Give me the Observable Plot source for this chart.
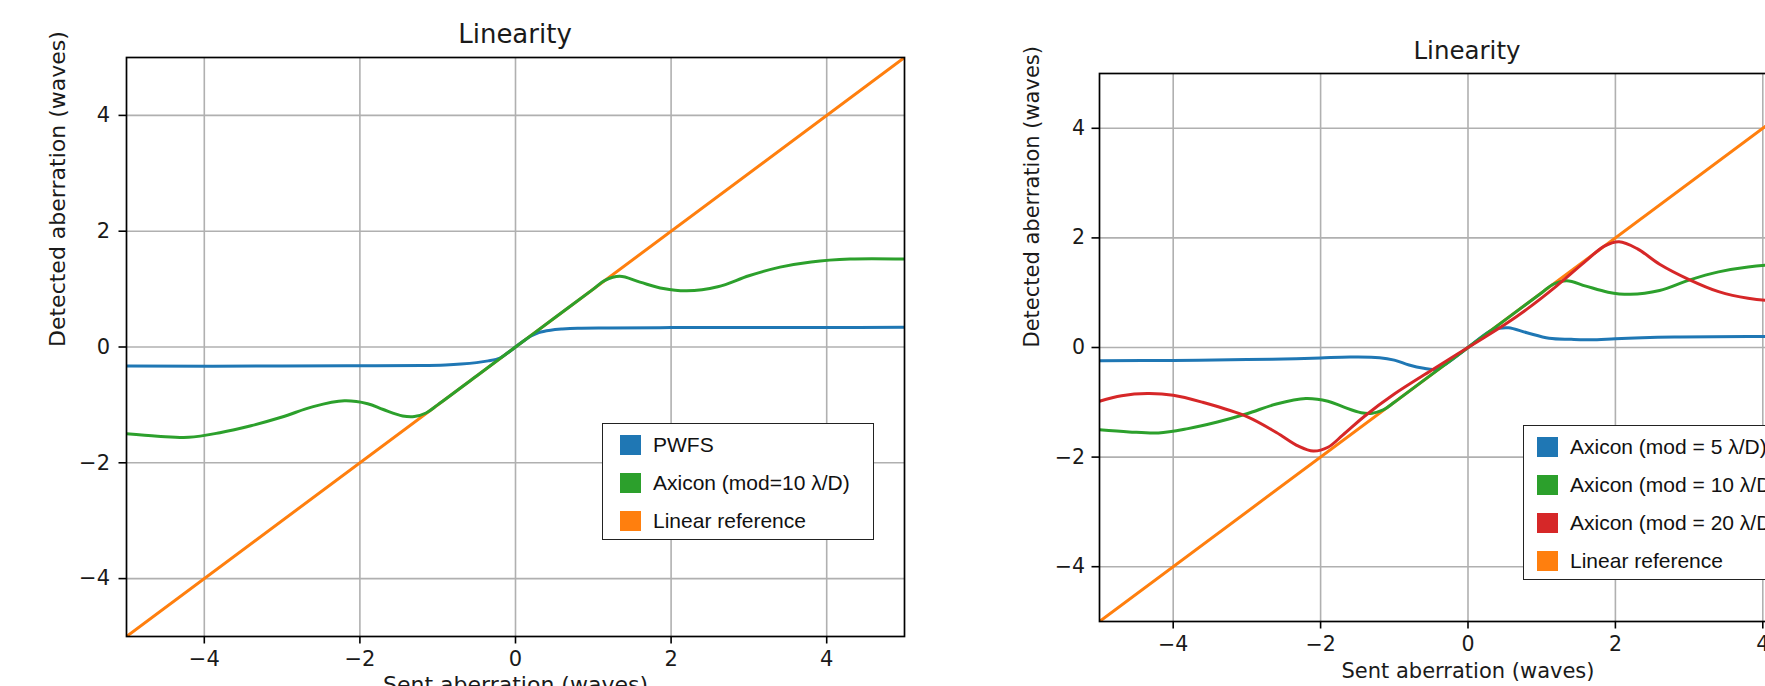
<!DOCTYPE html>
<html>
<head>
<meta charset="utf-8">
<script src="https://cdn.jsdelivr.net/npm/d3@7"></script>
<script src="https://cdn.jsdelivr.net/npm/@observablehq/plot@0.6"></script>
<style>
  html, body { margin: 0; padding: 0; background: #fff; overflow: hidden; width: 1765px; height: 686px; }
  #root { position: relative; width: 1950px; height: 700px; }
  .abs { position: absolute; }
  .title { position: absolute; font-family: "DejaVu Sans"; color: #1a1a1a; white-space: nowrap; transform: translate(-50%, -50%); }
  .legend { position: absolute; background: #fff; border: 1.5px solid #222; box-sizing: border-box; font-family: "Liberation Sans", Arial, sans-serif; font-size: 21px; color: #111; }
  .sw { position: absolute; width: 21px; height: 20px; }
  .lt { position: absolute; transform: translateY(-50%); white-space: nowrap; }
</style>
</head>
<body>
<div id="root"></div>
<script>
// ---------- data ----------
const ticks = [-4, -2, 0, 2, 4];
const titleText = "Linearity";
const xLabel = "Sent aberration (waves)";
const yLabel = "Detected aberration (waves)";

// linear reference y = x
const refX = [-5, 5];
const refY = [-5, 5];

// Left panel: PWFS
const pwfsX = [-5, -3, -2, -1.2, -0.9, -0.7, -0.5, -0.35, -0.2, -0.1, 0, 0.1, 0.2, 0.3, 0.45, 0.6, 0.8, 1.2, 2, 3, 4, 5];
const pwfsY = [-0.33, -0.33, -0.325, -0.32, -0.31, -0.295, -0.27, -0.24, -0.19, -0.1, 0, 0.1, 0.19, 0.25, 0.29, 0.31, 0.325, 0.33, 0.335, 0.335, 0.338, 0.34];

// Axicon mod = 10 λ/D (both panels)
const ax10X = [-5, -4.6, -4.2, -3.8, -3.4, -3.0, -2.6, -2.2, -1.9, -1.7, -1.45, -1.3, -1.15, -1.0, -0.5, 0, 0.5, 1.0, 1.15, 1.34, 1.6, 1.9, 2.2, 2.6, 3.0, 3.4, 3.8, 4.3, 5];
const ax10Y = [-1.50, -1.54, -1.56, -1.48, -1.36, -1.21, -1.03, -0.93, -0.98, -1.08, -1.19, -1.2, -1.14, -1.0, -0.5, 0, 0.5, 1.0, 1.15, 1.22, 1.12, 1.01, 0.97, 1.04, 1.23, 1.38, 1.47, 1.52, 1.52];

// Right panel: Axicon mod = 5 λ/D
const ax5X = [-5, -4, -3, -2.5, -2, -1.6, -1.2, -1.0, -0.8, -0.6, -0.45, -0.3, 0, 0.3, 0.42, 0.55, 0.8, 1.1, 1.4, 1.75, 2, 2.8, 4, 5];
const ax5Y = [-0.24, -0.235, -0.22, -0.21, -0.19, -0.175, -0.185, -0.23, -0.32, -0.38, -0.4, -0.3, 0, 0.3, 0.35, 0.36, 0.27, 0.17, 0.15, 0.14, 0.16, 0.19, 0.2, 0.2];

// Right panel: Axicon mod = 20 λ/D
const ax20X = [-5, -4.7, -4.35, -4.0, -3.6, -3.0, -2.6, -2.3, -2.1, -1.9, -1.7, -1.4, -1.0, -0.5, 0, 0.5, 0.8, 1.2, 1.6, 1.85, 2.05, 2.3, 2.6, 3.0, 3.4, 3.8, 4.35, 4.7, 5];
const ax20Y = [-0.98, -0.88, -0.84, -0.87, -1.0, -1.26, -1.55, -1.8, -1.89, -1.82, -1.6, -1.25, -0.85, -0.42, 0, 0.42, 0.7, 1.12, 1.58, 1.85, 1.93, 1.8, 1.52, 1.24, 1.02, 0.9, 0.84, 0.88, 0.98];

const leftLegend = ["PWFS", "Axicon (mod=10 λ/D)", "Linear reference"];
const leftColors = ["#1f77b4", "#2ca02c", "#ff7f0e"];
const rightLegend = ["Axicon (mod = 5 λ/D)", "Axicon (mod = 10 λ/D)", "Axicon (mod = 20 λ/D)", "Linear reference"];
const rightColors = ["#1f77b4", "#2ca02c", "#d62728", "#ff7f0e"];

// ---------- helpers ----------
const zip = (xs, ys) => xs.map((x, i) => ({x, y: ys[i]}));
const fmt = d => (d < 0 ? "\u2212" + (-d) : String(d));
const root = document.getElementById("root");

function lineMark(xs, ys, color, w) {
  return Plot.line(zip(xs, ys), {x: "x", y: "y", stroke: color, strokeWidth: w, curve: "catmull-rom", clip: true});
}

function panel(opts) {
  const {left, top, width, height, mL, mT, mB, mR, fs, lfs, labelDx, labelDy, series, tickPadY} = opts;
  const chart = Plot.plot({
    width, height,
    marginLeft: mL, marginTop: mT, marginBottom: mB, marginRight: mR,
    style: {fontFamily: "DejaVu Sans", fontSize: fs + "px", color: "#000", background: "transparent", overflow: "visible"},
    x: {domain: [-5, 5]},
    y: {domain: [-5, 5]},
    marks: [
      Plot.gridX(ticks, {stroke: "#b0b0b0", strokeOpacity: 1, strokeWidth: 1.6}),
      Plot.gridY(ticks, {stroke: "#b0b0b0", strokeOpacity: 1, strokeWidth: 1.6}),
      ...series,
      Plot.frame({stroke: "#000", strokeWidth: 1.7}),
      Plot.axisX(ticks, {tickSize: 7.5, tickPadding: 7, label: null, tickFormat: fmt, fill: "#1a1a1a", strokeWidth: 1.6}),
      Plot.axisY(ticks, {tickSize: 7.5, tickPadding: tickPadY, label: null, tickFormat: fmt, fill: "#1a1a1a", strokeWidth: 1.6}),
      Plot.text([yLabel], {frameAnchor: "left", dx: -labelDx, rotate: -90, fill: "#1a1a1a", fontSize: lfs}),
      Plot.text([xLabel], {frameAnchor: "bottom", dy: labelDy, fill: "#1a1a1a", fontSize: lfs})
    ]
  });
  chart.classList.add("abs");
  chart.style.left = left + "px";
  chart.style.top = top + "px";
  root.appendChild(chart);
}

function title(cx, cy, fs) {
  const t = document.createElement("div");
  t.className = "title";
  t.textContent = titleText;
  t.style.left = cx + "px";
  t.style.top = cy + "px";
  t.style.fontSize = fs + "px";
  root.appendChild(t);
}

function legend(labels, colors, box) {
  const lg = document.createElement("div");
  lg.className = "legend";
  Object.assign(lg.style, {left: box.left + "px", top: box.top + "px", width: box.w + "px", height: box.h + "px"});
  labels.forEach((lab, i) => {
    const cy = box.first + i * box.step;
    const sw = document.createElement("div");
    sw.className = "sw";
    Object.assign(sw.style, {left: box.sx + "px", top: (cy - 10) + "px", background: colors[i]});
    const tx = document.createElement("div");
    tx.className = "lt";
    tx.textContent = lab;
    Object.assign(tx.style, {left: box.tx + "px", top: cy + "px"});
    lg.appendChild(sw);
    lg.appendChild(tx);
  });
  root.appendChild(lg);
}

// ---------- left panel ----------
title(515, 34, 26);
panel({
  left: 0, top: 47, width: 924, height: 665, mL: 126, mT: 10, mB: 76, mR: 20, fs: 21, lfs: 22,
  labelDx: 69, labelDy: 55, tickPadY: 9,
  series: [
    lineMark(refX, refY, "#ff7f0e", 3),
    lineMark(pwfsX, pwfsY, "#1f77b4", 3),
    lineMark(ax10X, ax10Y, "#2ca02c", 3)
  ]
});
legend(leftLegend, leftColors, {left: 602, top: 423, w: 272, h: 117, first: 21, step: 38, sx: 17, tx: 50});

// ---------- right panel ----------
title(1467, 50, 24.5);
panel({
  left: 1000, top: 63, width: 856, height: 630, mL: 99, mT: 10, mB: 72, mR: 20, fs: 20.5, lfs: 21,
  labelDx: 67, labelDy: 56, tickPadY: 7,
  series: [
    lineMark(refX, refY, "#ff7f0e", 3),
    lineMark(ax5X, ax5Y, "#1f77b4", 3),
    lineMark(ax10X, ax10Y, "#2ca02c", 3),
    lineMark(ax20X, ax20Y, "#d62728", 3)
  ]
});
legend(rightLegend, rightColors, {left: 1523, top: 425, w: 270, h: 155, first: 21, step: 38, sx: 13, tx: 46});
</script>
</body>
</html>
